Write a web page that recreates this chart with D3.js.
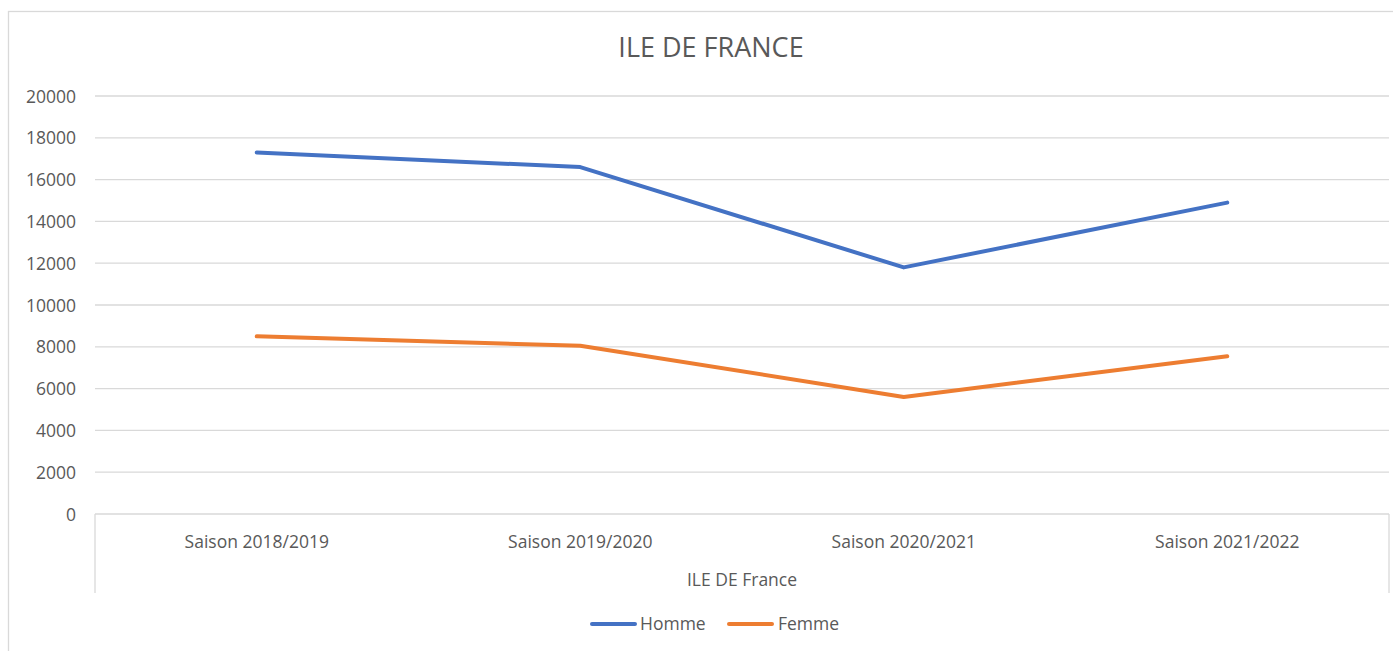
<!DOCTYPE html>
<html><head><meta charset="utf-8">
<script src="https://cdn.jsdelivr.net/npm/d3@7"></script>
<style>body{margin:0;background:#fff}svg{display:block}text{font-family:"Open Sans",sans-serif;fill:#595959}</style>
</head><body>
<svg id="c" width="1393" height="651"></svg>
<script>
const categories = ["Saison 2018/2019","Saison 2019/2020","Saison 2020/2021","Saison 2021/2022"];
const homme = [17300, 16600, 11800, 14900];
const femme = [8500, 8050, 5600, 7550];
const yTicks = [0,2000,4000,6000,8000,10000,12000,14000,16000,18000,20000];
const seriesNames = ["Homme","Femme"];
const colors = ["#4472C4","#ED7D31"];
const title = "ILE DE FRANCE";
const groupLabel = "ILE DE France";

const svg = d3.select("#c");
const L = 95, R = 1389, T = 96, B = 514;
svg.append("rect").attr("x",8.5).attr("y",11.5).attr("width",1400).attr("height",660)
  .attr("fill","none").attr("stroke","#d9d9d9").attr("stroke-width",1.3);

const x = d3.scaleBand().domain(categories).range([L,R]);
const y = d3.scaleLinear().domain([0,20000]).range([B,T]);

// gridlines
svg.append("g").selectAll("line").data(yTicks.filter(d=>d>0)).join("line")
  .attr("x1",L).attr("x2",R).attr("y1",d=>y(d)).attr("y2",d=>y(d))
  .attr("stroke","#d9d9d9").attr("stroke-width",1.3);

// y axis labels
const yAx = d3.axisLeft(y).tickValues(yTicks).tickSize(0).tickPadding(0).tickFormat(d3.format("d"));
const gy = svg.append("g").attr("transform",`translate(76,0)`).call(yAx);
gy.select(".domain").remove();
gy.selectAll("text").attr("font-size","17.5px").style("font-family","'Open Sans',sans-serif").attr("fill","#595959").attr("dy","0.35em");

// category axis
const xAx = d3.axisBottom(x).tickSize(0).tickPadding(0);
const gx = svg.append("g").attr("transform",`translate(0,${B})`).call(xAx);
gx.select(".domain").remove();
gx.selectAll("text").attr("font-size","17.5px").style("font-family","'Open Sans',sans-serif").attr("fill","#595959").attr("dy","34px");
svg.append("line").attr("x1",L).attr("x2",R).attr("y1",B).attr("y2",B).attr("stroke","#d9d9d9").attr("stroke-width",1.3);
[L,R].forEach(xx=>svg.append("line").attr("x1",xx).attr("x2",xx).attr("y1",B).attr("y2",593).attr("stroke","#d9d9d9").attr("stroke-width",1.3));
svg.append("text").attr("x",(L+R)/2).attr("y",586).attr("text-anchor","middle").attr("font-size","17.5px").text(groupLabel);

// title
svg.append("text").attr("x",711).attr("y",57).attr("text-anchor","middle").attr("font-size","27px").text(title);

// lines
const line = d3.line().x((d,i)=>x(categories[i])+x.bandwidth()/2).y(d=>y(d));
[homme,femme].forEach((s,i)=>{
  svg.append("path").datum(s).attr("d",line).attr("fill","none").attr("stroke",colors[i])
    .attr("stroke-width",4).attr("stroke-linecap","round").attr("stroke-linejoin","round");
});

// legend
const lg = [{x1:592,x2:635,tx:640},{x1:729,x2:772,tx:778}];
seriesNames.forEach((n,i)=>{
  svg.append("line").attr("x1",lg[i].x1).attr("x2",lg[i].x2).attr("y1",624).attr("y2",624)
    .attr("stroke",colors[i]).attr("stroke-width",4).attr("stroke-linecap","round");
  svg.append("text").attr("x",lg[i].tx).attr("y",630).attr("font-size","17.5px").text(n);
});
</script>
</body></html>
